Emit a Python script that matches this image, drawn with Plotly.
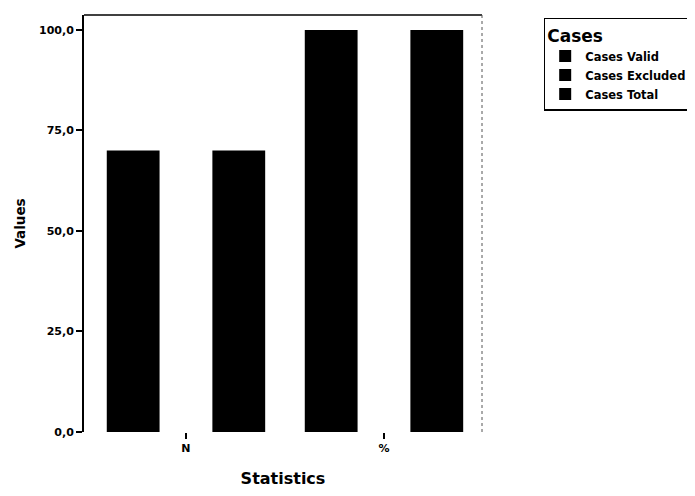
import plotly.graph_objects as go

categories = ["N", "%"]
cases_valid = [70.0, 100.0]
cases_excluded = [0.0, 0.0]
cases_total = [70.0, 100.0]
series_names = ["Cases Valid", "Cases Excluded", "Cases Total"]
y_ticks = [0, 25, 50, 75, 100]

FONT = "DejaVu Sans"

fig = go.Figure()
for name, vals in zip(series_names, [cases_valid, cases_excluded, cases_total]):
    fig.add_trace(go.Bar(
        x=categories, y=vals, name=name,
        marker=dict(color="black", line=dict(color="black", width=0)),
    ))

fig.update_layout(
    width=695, height=496,
    barmode="group", bargap=0.2, bargroupgap=0,
    separators=",.",
    plot_bgcolor="white", paper_bgcolor="white",
    margin=dict(l=76, r=221, t=7, b=72),
    font=dict(family=FONT, color="black"),
    showlegend=True,
    legend=dict(
        title=dict(text="Cases", font=dict(size=17, family=FONT, weight="bold")),
        font=dict(size=11.5, family=FONT, weight="bold"),
        x=1.155, y=0.993, xanchor="left", yanchor="top",
        bordercolor="black", borderwidth=1.5, bgcolor="white",
        tracegroupgap=0, itemsizing="constant",
    ),
    xaxis=dict(
        range=[-0.515, 1.495],
        showline=False, showgrid=False, zeroline=False,
        ticks="outside", ticklen=6, tickwidth=2, tickcolor="black",
        tickfont=dict(size=11, family=FONT, weight="bold"),
        title=dict(text="Statistics", font=dict(size=16, family=FONT, weight="bold"), standoff=18),
    ),
    yaxis=dict(
        range=[0, 103.7],
        tickvals=y_ticks, tickformat=".1f",
        showline=True, linecolor="black", linewidth=2,
        showgrid=False, zeroline=False,
        ticks="outside", ticklen=6, tickwidth=2, tickcolor="black",
        tickfont=dict(size=11, family=FONT, weight="bold"),
        title=dict(text="Values", font=dict(size=13.5, family=FONT, weight="bold"), standoff=10),
    ),
    shapes=[
        dict(type="line", xref="paper", yref="paper", x0=0, x1=1, y0=1, y1=1,
             line=dict(color="black", width=1.5)),
        dict(type="line", xref="paper", yref="paper", x0=1, x1=1, y0=0, y1=1,
             line=dict(color="#555555", width=1, dash="dot")),
    ],
)

fig.write_html("out.html")
